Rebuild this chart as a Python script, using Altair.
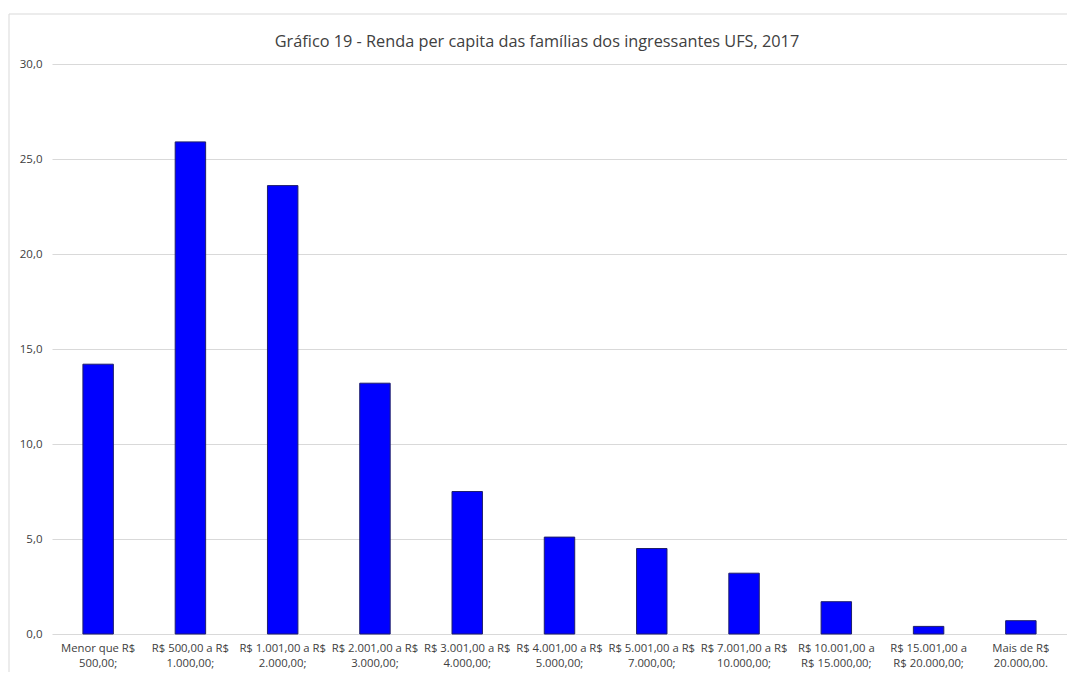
import altair as alt
import pandas as pd

categories = [
    "Menor que R$\n500,00;",
    "R$ 500,00 a R$\n1.000,00;",
    "R$ 1.001,00 a R$\n2.000,00;",
    "R$ 2.001,00 a R$\n3.000,00;",
    "R$ 3.001,00 a R$\n4.000,00;",
    "R$ 4.001,00 a R$\n5.000,00;",
    "R$ 5.001,00 a R$\n7.000,00;",
    "R$ 7.001,00 a R$\n10.000,00;",
    "R$ 10.001,00 a\nR$ 15.000,00;",
    "R$ 15.001,00 a\nR$ 20.000,00;",
    "Mais de R$\n20.000,00.",
]
values = [14.2, 25.9, 23.6, 13.2, 7.5, 5.1, 4.5, 3.2, 1.7, 0.4, 0.7]
y_ticks = [0, 5, 10, 15, 20, 25, 30]
title_text = "Gráfico 19 - Renda per capita das famílias dos ingressantes UFS, 2017"

df = pd.DataFrame({"faixa": categories, "pct": values})

W = 1015
H = 570
FONT = "Open Sans"

bars = alt.Chart(df).mark_bar(
    color="#0000FF", stroke="#1F1F6B", strokeWidth=1
).encode(
    x=alt.X(
        "faixa:N",
        sort=None,
        title=None,
        scale=alt.Scale(paddingInner=0.67, paddingOuter=0.335),
        axis=alt.Axis(
            labelAngle=0,
            labelExpr="split(datum.label, '\\n')",
            labelFont=FONT,
            labelFontSize=11.3,
            labelColor="#404040",
            labelLineHeight=15,
            labelPadding=8,
            labelLimit=200,
            labelOverlap=False,
            ticks=False,
            domain=False,
            grid=False,
        ),
    ),
    y=alt.Y(
        "pct:Q",
        title=None,
        scale=alt.Scale(domain=[0, 30], nice=False),
        axis=alt.Axis(
            values=y_ticks,
            labelExpr="replace(format(datum.value, '.1f'), '.', ',')",
            labelFont=FONT,
            labelFontSize=11.5,
            labelColor="#404040",
            labelPadding=10,
            ticks=False,
            domain=False,
            grid=True,
            gridColor="#D9D9D9",
            gridWidth=1,
        ),
    ),
)

frame_data = alt.Data(values=[{}])
top_line = alt.Chart(frame_data).mark_rule(color="#D9D9D9", strokeWidth=1).encode(
    x=alt.value(-43), x2=alt.value(W + 10), y=alt.value(-50)
)
left_line = alt.Chart(frame_data).mark_rule(color="#D9D9D9", strokeWidth=1).encode(
    x=alt.value(-43), y=alt.value(-50), y2=alt.value(H + 40)
)
title_mark = alt.Chart(frame_data).mark_text(
    font=FONT, fontSize=16.3, color="#404040", align="center", baseline="middle"
).encode(
    x=alt.value(485), y=alt.value(-22), text=alt.value(title_text)
)

chart = alt.layer(top_line, left_line, title_mark, bars).properties(
    width=W,
    height=H,
    background="white",
    autosize=alt.AutoSizeParams(type="none"),
    padding={"left": 44, "top": 56, "right": 0, "bottom": 38},
).configure_view(stroke=None)

chart.save("out.html", embed_options={"renderer": "svg", "actions": False})
